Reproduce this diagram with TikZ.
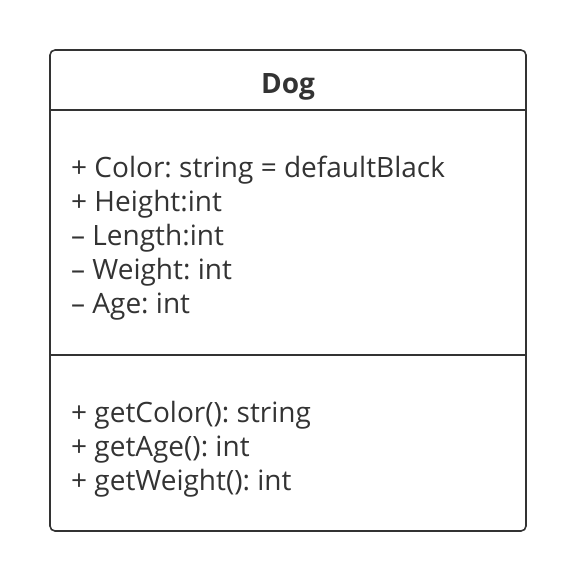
\documentclass[tikz,border=0pt]{standalone}
\usepackage{fontspec}
\setmainfont{Open Sans}
\frenchspacing
\usetikzlibrary{positioning}
\definecolor{umlgray}{HTML}{333333}
\tikzset{
	member/.style={anchor=base west,inner sep=0pt,text=umlgray,font=\fontsize{28}{34}\selectfont},
	title/.style={anchor=base,inner sep=0pt,text=umlgray,font=\fontsize{28}{34}\selectfont\bfseries}
}
\begin{document}
\begin{tikzpicture}[x=1pt,y=-1pt,line join=round,line cap=round]
	\useasboundingbox (0,0) rectangle (576,582);
	\def\xl{50} \def\xr{526} \def\yt{50} \def\yb{531} % Khung
	\def\ya{110} \def\yb{355}
	\draw[umlgray,line width=1.6pt,rounded corners=5pt] (\xl,\yt) rectangle (\xr,531);
	\draw[umlgray,line width=1.6pt] (\xl,\ya)--(\xr,\ya);
	\draw[umlgray,line width=1.6pt] (\xl,\yb)--(\xr,\yb);
	\node[title] (dog) at (288,93) {Dog};
	\node[member] (color) at (71,177) {+ Color: string = defaultBlack};
	\node[member] (height) at (71,211) {+ Height:int};
	\node[member] (length) at (71,245) {– Length:int};
	\node[member] (weight) at (71,279) {– Weight: int};
	\node[member] (age) at (71,313) {– Age: int};
	\node[member] (getcolor) at (71,422) {+ getColor(): string};
	\node[member] (getage) at (71,456) {+ getAge(): int};
	\node[member] (getweight) at (71,490) {+ getWeight(): int};
\end{tikzpicture}
\end{document}
